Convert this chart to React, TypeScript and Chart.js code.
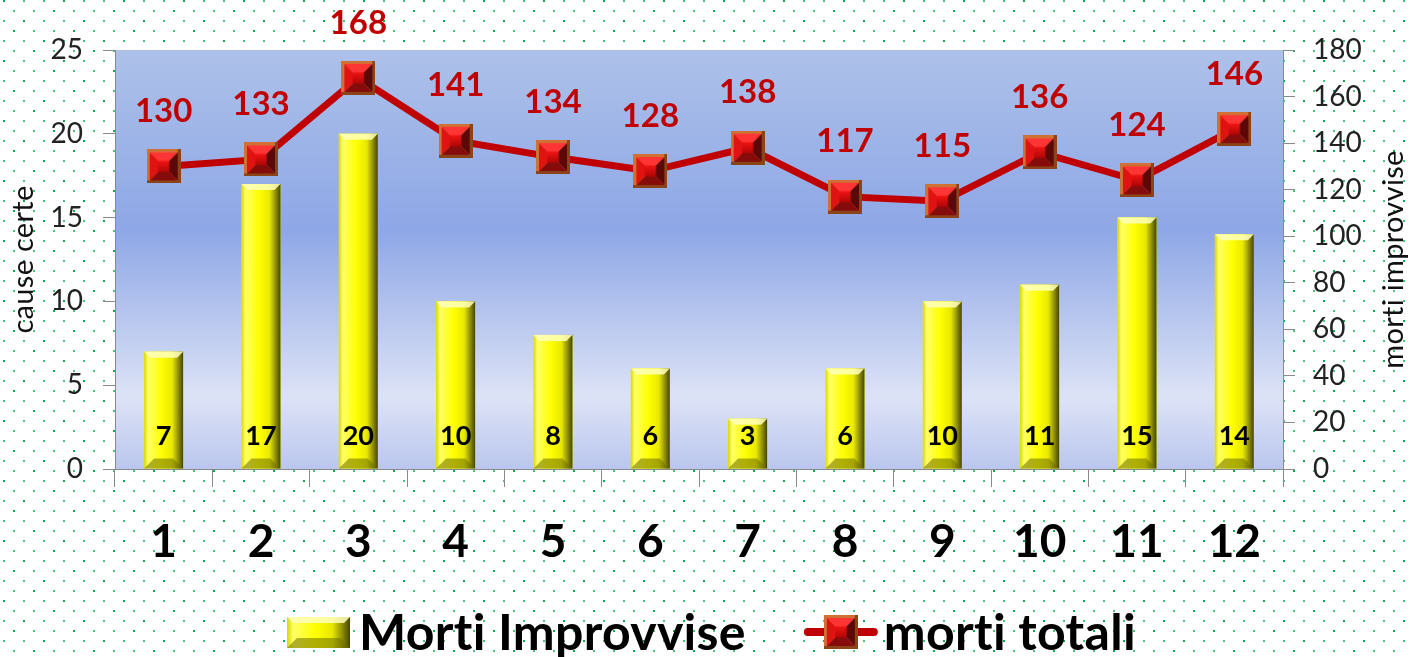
import React, { useEffect, useRef } from "react";
import { Chart, registerables } from "chart.js";

Chart.register(...registerables);

const months = ["1", "2", "3", "4", "5", "6", "7", "8", "9", "10", "11", "12"];
const mortiImprovvise = [7, 17, 20, 10, 8, 6, 3, 6, 10, 11, 15, 14];
const mortiTotali = [130, 133, 168, 141, 134, 128, 138, 117, 115, 136, 124, 146];
const leftAxis = { min: 0, max: 25, step: 5 };
const rightAxis = { min: 0, max: 180, step: 20 };
const barLabel = "Morti Improvvise";
const lineLabel = "morti totali";
const leftTitle = "cause certe";
const rightTitle = "morti improvvise";

const W = 1411;
const H = 657;
const FONT = "Lato, 'Open Sans', sans-serif";

function makeMarker(size: number): HTMLCanvasElement {
  const c = document.createElement("canvas");
  c.width = size;
  c.height = size;
  const g = c.getContext("2d")!;
  g.fillStyle = "#d07034";
  g.fillRect(0, 0, size, size);
  g.fillStyle = "#8a4418";
  g.fillRect(size - 3, 0, 3, size);
  g.fillRect(0, size - 3, size, 3);
  const b = 3;
  const x0 = b, y0 = b, x1 = size - b, y1 = size - b;
  const cx = size / 2, cy = size / 2;
  const tri = (pts: number[][], col: string) => {
    g.beginPath();
    g.moveTo(pts[0][0], pts[0][1]);
    for (let i = 1; i < pts.length; i++) g.lineTo(pts[i][0], pts[i][1]);
    g.closePath();
    g.fillStyle = col;
    g.fill();
  };
  tri([[x0, y0], [x1, y0], [cx, cy]], "#ff3434");
  tri([[x0, y0], [x0, y1], [cx, cy]], "#e01212");
  tri([[x1, y0], [x1, y1], [cx, cy]], "#5c0808");
  tri([[x0, y1], [x1, y1], [cx, cy]], "#860c0c");
  const ins = (size - 2 * b) * 0.3;
  const rg = g.createLinearGradient(0, y0 + ins, 0, y1 - ins);
  rg.addColorStop(0, "#f01414");
  rg.addColorStop(1, "#b00606");
  g.fillStyle = rg;
  g.fillRect(x0 + ins, y0 + ins, size - 2 * b - 2 * ins, size - 2 * b - 2 * ins);
  return c;
}

function drawBevelBar(ctx: CanvasRenderingContext2D, l: number, t: number, w: number, h: number) {
  const r = l + w;
  const b = t + h;
  const g = ctx.createLinearGradient(l, 0, r, 0);
  g.addColorStop(0, "#d8d800");
  g.addColorStop(0.1, "#ffff66");
  g.addColorStop(0.45, "#ffff00");
  g.addColorStop(0.72, "#e8e800");
  g.addColorStop(0.88, "#8c8c00");
  g.addColorStop(1, "#444400");
  ctx.fillStyle = g;
  ctx.fillRect(l, t, w, h);
  const poly = (pts: number[][], col: string) => {
    ctx.beginPath();
    ctx.moveTo(pts[0][0], pts[0][1]);
    for (let i = 1; i < pts.length; i++) ctx.lineTo(pts[i][0], pts[i][1]);
    ctx.closePath();
    ctx.fillStyle = col;
    ctx.fill();
  };
  const tv = Math.min(6, h / 2);
  poly([[l, t], [r, t], [r - tv, t + tv], [l + tv, t + tv]], "rgba(255,255,190,0.85)");
  const bv = Math.min(10, h / 2);
  poly([[l, b], [r, b], [r - bv, b - bv], [l + bv, b - bv]], "rgba(110,110,0,0.55)");
}

export default function App() {
  const ref = useRef<HTMLCanvasElement | null>(null);

  useEffect(() => {
    document.body.style.margin = "0";
    const canvas = ref.current!;
    const marker = makeMarker(34);

    const bgPlugin = {
      id: "bgPlugin",
      beforeDraw(chart: any) {
        const ctx = chart.ctx as CanvasRenderingContext2D;
        ctx.save();
        ctx.fillStyle = "#ffffff";
        ctx.fillRect(0, 0, chart.width, chart.height);
        let row = 0;
        for (let y = 0; y < chart.height; y += 10, row++) {
          for (let x = (row % 2) * 10 + 3; x < chart.width; x += 20) {
            ctx.fillStyle = (row + Math.floor(x / 20)) % 3 === 0 ? "#10a850" : "#4cc07e";
            ctx.fillRect(x, y, 2, 2);
          }
        }
        const a = chart.chartArea;
        const g = ctx.createLinearGradient(0, a.top, 0, a.bottom);
        g.addColorStop(0, "#adc1e9");
        g.addColorStop(0.43, "#8ea7e6");
        g.addColorStop(0.83, "#dde3f6");
        g.addColorStop(1, "#bac6ee");
        ctx.fillStyle = g;
        ctx.fillRect(a.left, a.top, a.right - a.left, a.bottom - a.top);
        ctx.restore();
      },
      afterDatasetDraw(chart: any, args: any) {
        const meta = args.meta;
        if (meta.type !== "bar") return;
        const ctx = chart.ctx as CanvasRenderingContext2D;
        ctx.save();
        meta.data.forEach((el: any) => {
          const p = el.getProps(["x", "y", "base", "width"], true);
          drawBevelBar(ctx, p.x - p.width / 2, p.y, p.width, p.base - p.y);
        });
        ctx.restore();
      },
      afterDatasetsDraw(chart: any) {
        const ctx = chart.ctx as CanvasRenderingContext2D;
        ctx.save();
        ctx.textAlign = "center";
        ctx.textBaseline = "middle";
        const barMeta = chart.getDatasetMeta(1);
        ctx.fillStyle = "#000000";
        ctx.font = `bold 27px ${FONT}`;
        barMeta.data.forEach((el: any, i: number) => {
          const p = el.getProps(["x", "base"], true);
          ctx.fillText(String(mortiImprovvise[i]), p.x, p.base - 32);
        });
        const lineMeta = chart.getDatasetMeta(0);
        ctx.fillStyle = "#c00000";
        ctx.font = `bold 33px ${FONT}`;
        lineMeta.data.forEach((el: any, i: number) => {
          const p = el.getProps(["x", "y"], true);
          ctx.fillText(String(mortiTotali[i]), p.x, p.y - 55);
        });
        ctx.restore();
      },
      afterDraw(chart: any) {
        const ctx = chart.ctx as CanvasRenderingContext2D;
        const a = chart.chartArea;
        const midY = (a.top + a.bottom) / 2;
        ctx.save();
        (ctx as any).letterSpacing = "0.3px";
        ctx.fillStyle = "#111111";
        ctx.font = `29px ${FONT}`;
        ctx.textAlign = "center";
        ctx.textBaseline = "middle";
        ctx.save();
        ctx.translate(24, midY);
        ctx.rotate(-Math.PI / 2);
        ctx.fillText(leftTitle, 0, 0);
        ctx.restore();
        ctx.save();
        ctx.translate(1394, midY);
        ctx.rotate(-Math.PI / 2);
        ctx.fillText(rightTitle, 0, 0);
        ctx.restore();

        // legend
        ctx.font = `bold 50px ${FONT}`;
        const t1 = ctx.measureText(barLabel).width;
        const t2 = ctx.measureText(lineLabel).width;
        const icon1 = 63, gap1 = 9, sep = 58, icon2 = 74, gap2 = 6;
        const total = icon1 + gap1 + t1 + sep + icon2 + gap2 + t2;
        let x = Math.round(711 - total / 2);
        const cy = 632;
        drawBevelBar(ctx, x, cy - 15, icon1, 31);
        x += icon1 + gap1;
        ctx.textAlign = "left";
        ctx.fillStyle = "#000000";
        ctx.fillText(barLabel, x, cy + 2);
        x += t1 + sep;
        ctx.strokeStyle = "#c00000";
        ctx.lineWidth = 8;
        ctx.lineCap = "round";
        ctx.beginPath();
        ctx.moveTo(x + 4, cy);
        ctx.lineTo(x + icon2 - 4, cy);
        ctx.stroke();
        ctx.drawImage(marker, x + icon2 / 2 - 17, cy - 17, 34, 34);
        x += icon2 + gap2;
        ctx.fillStyle = "#000000";
        ctx.fillText(lineLabel, x, cy + 2);
        ctx.restore();
      },
    };

    const chart = new Chart(canvas, {
      type: "bar",
      data: {
        labels: months,
        datasets: [
          {
            type: "line",
            label: lineLabel,
            data: mortiTotali,
            yAxisID: "y1",
            borderColor: "#c00000",
            backgroundColor: "#c00000",
            borderWidth: 7,
            pointStyle: marker as any,
            pointRadius: 17,
            tension: 0,
            order: 0,
          } as any,
          {
            type: "bar",
            label: barLabel,
            data: mortiImprovvise,
            yAxisID: "y",
            backgroundColor: "#ffff00",
            barPercentage: 0.4,
            categoryPercentage: 1.0,
            order: 1,
          },
        ],
      },
      options: {
        responsive: false,
        animation: false,
        devicePixelRatio: 1,
        layout: { padding: { top: 50, bottom: 67, left: 0, right: 0 } },
        plugins: {
          legend: { display: false },
          tooltip: { enabled: false },
          title: { display: false },
        },
        scales: {
          x: {
            offset: true,
            grid: {
              offset: true,
              drawOnChartArea: false,
              drawTicks: true,
              tickLength: 18,
              color: "#8a8a8a",
            },
            border: { color: "#8a8a8a" },
            ticks: {
              font: { family: FONT, size: 46, weight: "bold" },
              color: "#000000",
              padding: 28,
            },
            afterFit: (s: any) => {
              s.height = 121;
            },
          },
          y: {
            position: "left",
            min: leftAxis.min,
            max: leftAxis.max,
            ticks: {
              stepSize: leftAxis.step,
              font: { family: FONT, size: 28 },
              color: "#222222",
              padding: 20,
            },
            grid: { drawOnChartArea: false, tickLength: 12, color: "#8a8a8a" },
            border: { color: "#8a8a8a" },
            afterFit: (s: any) => {
              s.width = 115;
            },
          },
          y1: {
            position: "right",
            min: rightAxis.min,
            max: rightAxis.max,
            ticks: {
              stepSize: rightAxis.step,
              font: { family: FONT, size: 28 },
              color: "#222222",
              padding: 18,
            },
            grid: { drawOnChartArea: false, tickLength: 12, color: "#8a8a8a" },
            border: { color: "#8a8a8a" },
            afterFit: (s: any) => {
              s.width = 128;
            },
          },
        },
      } as any,
      plugins: [bgPlugin],
    });

    return () => chart.destroy();
  }, []);

  return (
    <div style={{ width: W, height: H }}>
      <canvas ref={ref} width={W} height={H} style={{ display: "block" }} />
    </div>
  );
}
